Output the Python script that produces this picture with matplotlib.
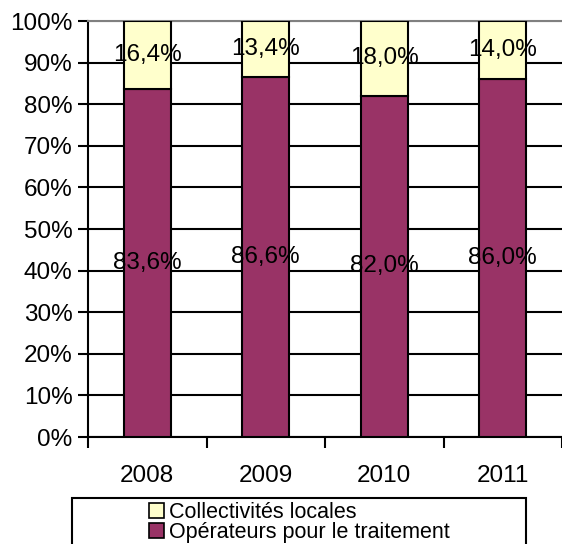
import numpy as np
import matplotlib.pyplot as plt
from matplotlib.patches import Patch, Rectangle

plt.rcParams['font.family'] = ['Liberation Sans', 'DejaVu Sans']

annees = ['2008', '2009', '2010', '2011']
operateurs = [83.6, 86.6, 82.0, 86.0]
collectivites = [16.4, 13.4, 18.0, 14.0]

col_op = '#993366'
col_coll = '#FFFFCC'

W, H = 562, 544
fig = plt.figure(figsize=(W/100, H/100), dpi=100)
ax = fig.add_axes([88/W, (H-437)/H, (W-88)/W, 416/H])

x = np.arange(len(annees))
op = np.array(operateurs) / 100
coll = np.array(collectivites) / 100
ax.bar(x, op, width=0.40, color=col_op, edgecolor='black', linewidth=1.5, zorder=3)
ax.bar(x, coll, bottom=op, width=0.40, color=col_coll, edgecolor='black', linewidth=1.5, zorder=3)

# etiquettes des valeurs
for i in range(len(annees)):
    ax.text(x[i], op[i] / 2, f"{operateurs[i]:.1f}%".replace('.', ','),
            ha='center', va='center', fontsize=17.5, zorder=4)
    ax.text(x[i], op[i] + coll[i] / 2, f"{collectivites[i]:.1f}%".replace('.', ','),
            ha='center', va='center', fontsize=17.5, zorder=4)

ax.set_xlim(-0.5, len(annees) - 0.5)
ax.set_ylim(0, 1)
yt = np.arange(0, 1.01, 0.1)
ax.set_yticks(yt)
ax.set_yticklabels([f"{int(round(v*100))}%" for v in yt], fontsize=17.5)
ax.set_xticks(x)
ax.set_xticklabels(annees, fontsize=17.5)
ax.set_xticks(np.arange(-0.5, len(annees), 1), minor=True)
ax.tick_params(axis='x', which='major', length=0, pad=20)
ax.tick_params(axis='x', which='minor', length=8, width=1.5, direction='out')
ax.tick_params(axis='y', length=7, width=1.5, direction='out', pad=4)

ax.grid(axis='y', color='black', linewidth=1.5, zorder=0)
gl = ax.yaxis.get_gridlines()
gl[-1].set_color('#808080')
ax.spines['right'].set_visible(False)
ax.spines['top'].set_color('#808080')
ax.spines['top'].set_linewidth(1.5)
ax.spines['left'].set_linewidth(1.5)
ax.spines['bottom'].set_linewidth(1.5)

# legende
handles = [Patch(facecolor=col_coll, edgecolor='black', linewidth=1.2),
           Patch(facecolor=col_op, edgecolor='black', linewidth=1.2)]
leg = fig.legend(handles, ['Collectivités locales', 'Opérateurs pour le traitement'],
                 loc='upper left', bbox_to_anchor=(149/W, 1 - 502/H),
                 fontsize=15.5, frameon=False,
                 handlelength=0.7, handleheight=0.7, handletextpad=0.25,
                 labelspacing=-0.05, borderpad=0.0, borderaxespad=0)
fig.patches.append(Rectangle((72/W, -0.01), (526-72)/W, (H-498)/H + 0.01,
                             transform=fig.transFigure, fill=False,
                             edgecolor='black', linewidth=1.5))

fig.savefig('out.png', dpi=100)
